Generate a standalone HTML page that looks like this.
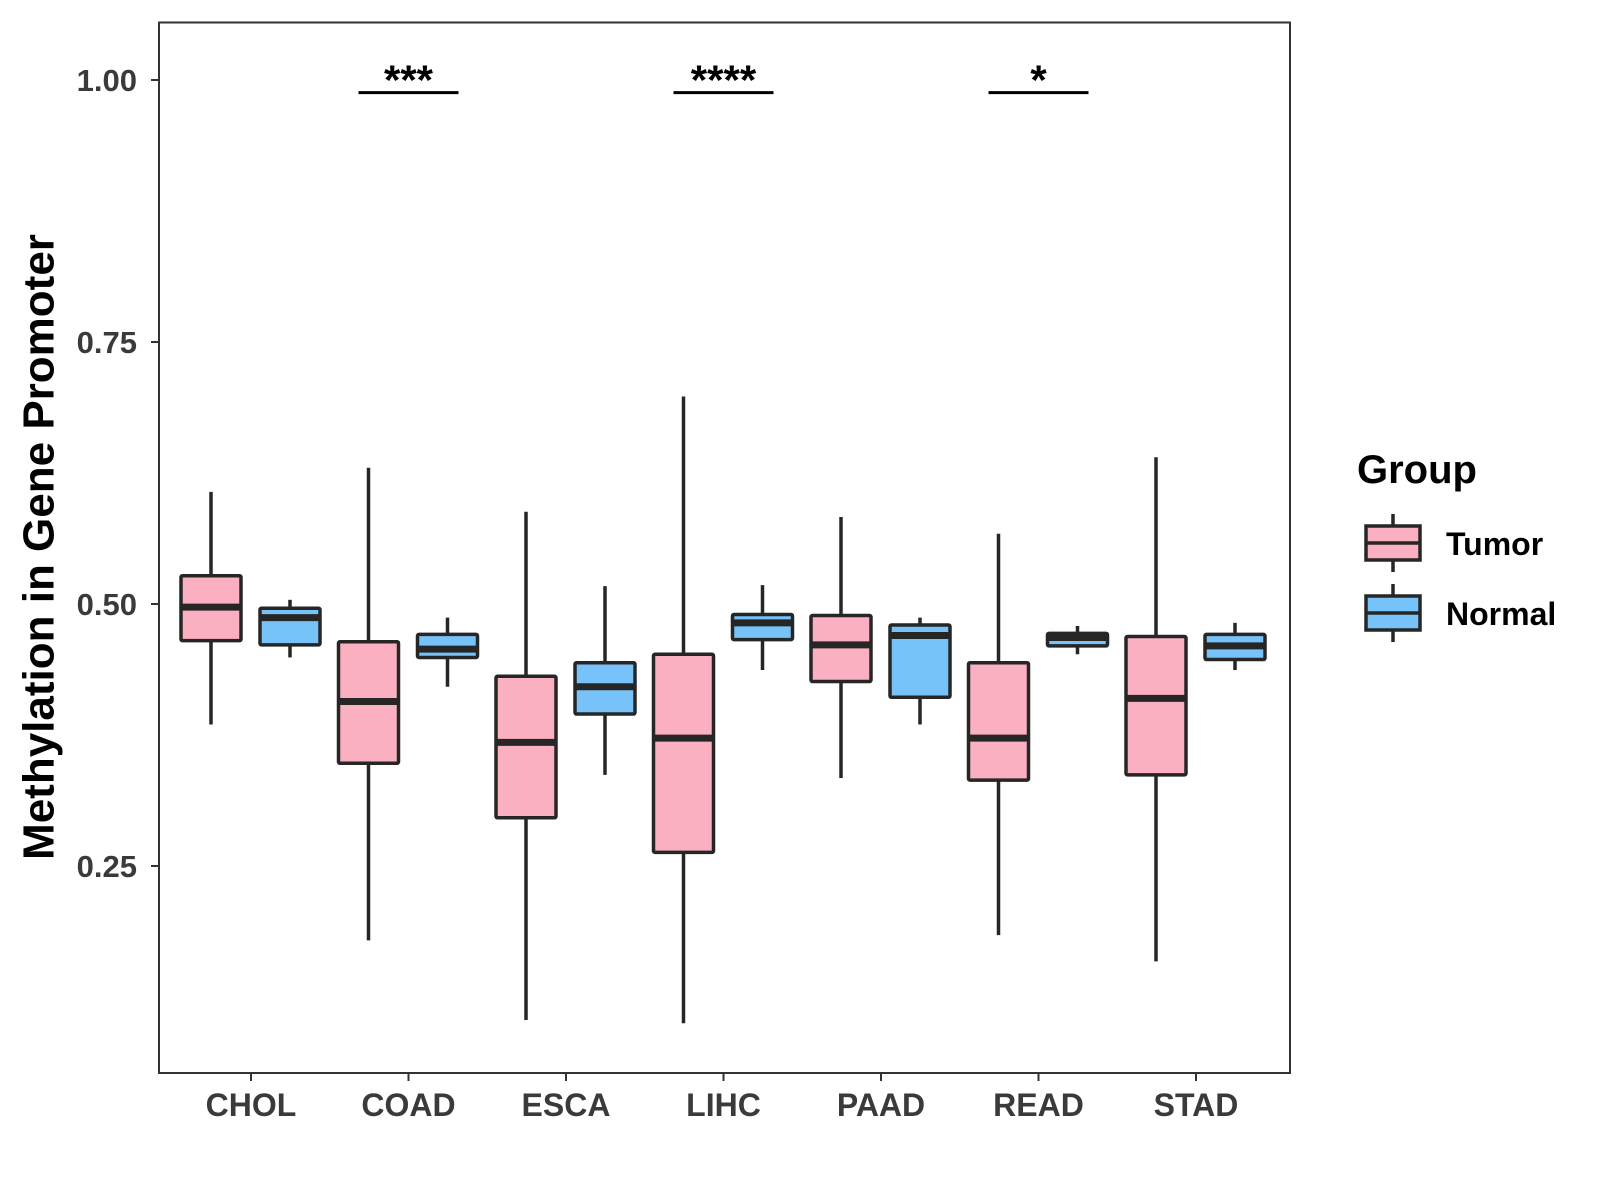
<!DOCTYPE html>
<html><head><meta charset="utf-8"><style>
html,body{margin:0;padding:0;background:#fff;}
svg{display:block;font-family:"Liberation Sans",Arial,sans-serif;font-weight:bold;}
</style></head><body>
<svg id="chart" width="1600" height="1200" viewBox="0 0 1600 1200">
<rect x="159" y="22.5" width="1131" height="1050.5" fill="#fff" stroke="#333" stroke-width="2"/>
<g id="ticks"></g>
<g id="boxes"></g>
<g id="sig"></g>
<text x="39" y="547" transform="rotate(-90 39 547)" text-anchor="middle" font-size="44" fill="#000" dominant-baseline="central">Methylation in Gene Promoter</text>
<text x="1357" y="483" font-size="40" fill="#000">Group</text>
<g id="legend"></g>
</svg>
<script>
const categories=["CHOL","COAD","ESCA","LIHC","PAAD","READ","STAD"];
// [upper whisker, q3, median, q1, lower whisker]
const tumorStats=[[0.607,0.527,0.497,0.465,0.385],[0.630,0.464,0.407,0.348,0.179],[0.588,0.431,0.368,0.296,0.103],[0.698,0.452,0.372,0.263,0.100],[0.583,0.489,0.461,0.426,0.334],[0.567,0.444,0.372,0.332,0.184],[0.640,0.469,0.410,0.337,0.159]];
const normalStats=[[0.504,0.496,0.487,0.461,0.449],[0.487,0.471,0.457,0.449,0.421],[0.517,0.444,0.421,0.395,0.337],[0.518,0.490,0.482,0.466,0.437],[0.487,0.480,0.470,0.411,0.385],[0.479,0.472,0.468,0.460,0.452],[0.482,0.471,0.460,0.447,0.437]];
const yTicks=[0.25,0.50,0.75,1.00];
const yTickLabels=["0.25","0.50","0.75","1.00"];
const sigCategories=["COAD","LIHC","READ"];
const sigLabels=["***","****","*"];
const sigLevel=0.988;
const groups=["Tumor","Normal"];
const groupColors=["#FBB0C2","#77C2F8"];

const NS="http://www.w3.org/2000/svg";
function y(v){return 80+(1-v)*1048;}
function x(c){return 251+categories.indexOf(c)*157.5;}
function mk(tag,attrs,parent){const e=document.createElementNS(NS,tag);for(const k in attrs)e.setAttribute(k,attrs[k]);parent.appendChild(e);return e;}
const tg=document.getElementById('ticks');
yTicks.forEach((t,i)=>{
  const l=mk('line',{x1:151,x2:159,y1:y(t),y2:y(t),stroke:'#333','stroke-width':2},tg);
  
  
  const tx=mk('text',{x:137,y:y(t)+11,'text-anchor':'end','font-size':31,fill:'#3a3a3a'},tg);
  tx.textContent=yTickLabels[i];
  
  
});
categories.forEach(c=>{
  const l=mk('line',{x1:x(c),x2:x(c),y1:1073,y2:1081,stroke:'#333','stroke-width':2},tg);
  
  
  const tx=mk('text',{x:x(c),y:1116,'text-anchor':'middle','font-size':32,fill:'#3a3a3a'},tg);
  tx.textContent=c;
  
  
});
const bg=document.getElementById('boxes');
function drawBox(cx,s,color,name,parent){
  const g=mk('g',{},parent);
  
  
  mk('line',{x1:cx,x2:cx,y1:y(s[0]),y2:y(s[4]),stroke:'#262626','stroke-width':3.5},g);
  mk('rect',{x:cx-30,y:y(s[1]),width:60,height:y(s[3])-y(s[1]),fill:color,stroke:'#262626','stroke-width':3.5,rx:1.5},g);
  mk('line',{x1:cx-30,x2:cx+30,y1:y(s[2]),y2:y(s[2]),stroke:'#262626','stroke-width':7},g);
}
categories.forEach((c,i)=>{
  drawBox(x(c)-40,tumorStats[i],groupColors[0],'box-tumor-'+c.toLowerCase(),bg);
  drawBox(x(c)+39,normalStats[i],groupColors[1],'box-normal-'+c.toLowerCase(),bg);
});
const sg=document.getElementById('sig');
sigCategories.forEach((c,i)=>{
  const l=mk('line',{x1:x(c)-50,x2:x(c)+50,y1:y(sigLevel),y2:y(sigLevel),stroke:'#000','stroke-width':3},sg);
  
  
  const t=mk('text',{x:x(c),y:y(sigLevel)+2,'text-anchor':'middle','font-size':42,fill:'#000'},sg);
  t.textContent=sigLabels[i];
  
  
});
const lg=document.getElementById('legend');
groups.forEach((gname,i)=>{
  const top=526+i*70;
  const g=mk('g',{},lg);
  
  
  mk('line',{x1:1393,x2:1393,y1:top-12,y2:top+46,stroke:'#262626','stroke-width':3.5},g);
  mk('rect',{x:1366,y:top,width:54,height:34,fill:groupColors[i],stroke:'#262626','stroke-width':3.5},g);
  mk('line',{x1:1366,x2:1420,y1:top+17,y2:top+17,stroke:'#262626','stroke-width':3.5},g);
  const t=mk('text',{x:1446,y:top+29,'font-size':32,fill:'#000'},g);
  t.textContent=gname;
});
</script>
</body></html>
